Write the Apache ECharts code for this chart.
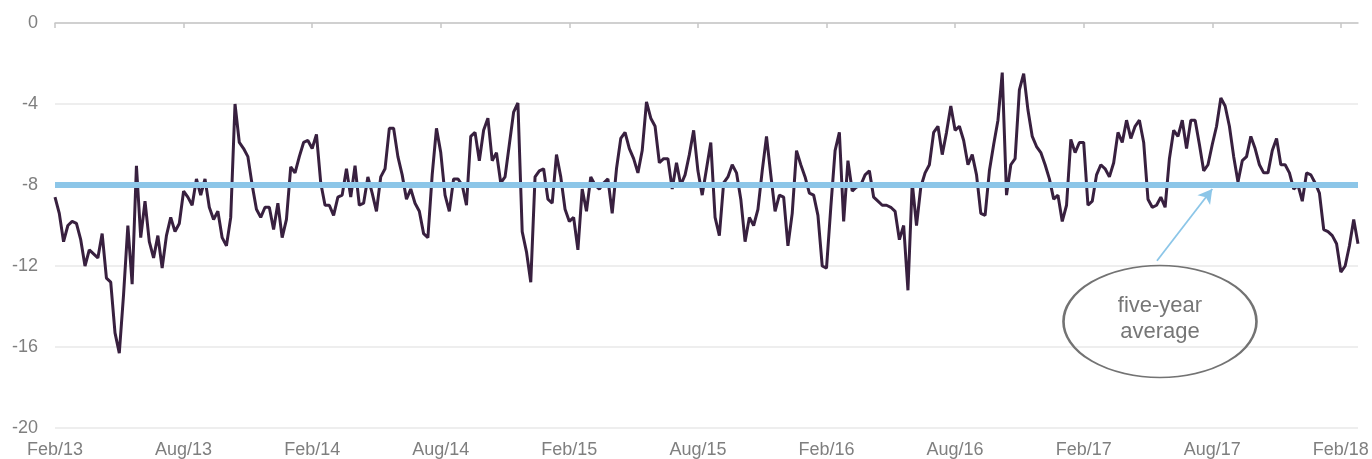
<!DOCTYPE html>
<html>
<head>
<meta charset="utf-8">
<title>Spread and five-year average</title>
<script src="https://cdn.jsdelivr.net/npm/echarts@6/dist/echarts.min.js"></script>
<style>
  html, body { margin: 0; padding: 0; background: #fff; }
  #chart { width: 1372px; height: 459px; }
</style>
</head>
<body>
<div id="chart"></div>
<script>
// x is counted in months from Feb 2013, one reading every 0.2 month
const STEP = 0.2

const tickMonths = [0, 6, 12, 18, 24, 30, 36, 42, 48, 54, 60]
const tickLabels = ['Feb/13', 'Aug/13', 'Feb/14', 'Aug/14', 'Feb/15', 'Aug/15',
  'Feb/16', 'Aug/16', 'Feb/17', 'Aug/17', 'Feb/18']

const spread = [
  -8.6, -9.4, -10.8, -10.0, -9.8, -9.9, -10.7, -12.0, -11.2, -11.4,
  -11.6, -10.4, -12.6, -12.8, -15.3, -16.3, -13.4, -10.0, -12.9, -7.05,
  -10.6, -8.8, -10.8, -11.6, -10.5, -12.1, -10.5, -9.6, -10.3, -9.9,
  -8.3, -8.6, -9.0, -7.7, -8.5, -7.7, -9.1, -9.7, -9.3, -10.6,
  -11.0, -9.6, -4.0, -5.9, -6.2, -6.6, -8.0, -9.2, -9.6, -9.1,
  -9.1, -10.2, -8.9, -10.6, -9.7, -7.1, -7.4, -6.6, -5.9, -5.8,
  -6.2, -5.5, -7.9, -9.0, -9.0, -9.5, -8.6, -8.5, -7.2, -8.6,
  -7.05, -9.0, -8.9, -7.6, -8.4, -9.3, -7.6, -7.2, -5.2, -5.2,
  -6.6, -7.5, -8.7, -8.2, -8.9, -9.3, -10.4, -10.6, -7.5, -5.2,
  -6.4, -8.5, -9.3, -7.7, -7.7, -8.0, -9.0, -5.6, -5.4, -6.8,
  -5.3, -4.7, -6.8, -6.4, -7.9, -7.6, -6.0, -4.4, -3.95, -10.3,
  -11.3, -12.8, -7.6, -7.3, -7.2, -8.7, -8.9, -6.5, -7.6, -9.2,
  -9.8, -9.6, -11.2, -8.2, -9.3, -7.6, -8.0, -8.2, -7.9, -7.7,
  -9.4, -7.2, -5.7, -5.4, -6.2, -6.7, -7.4, -6.3, -3.9, -4.7,
  -5.1, -6.9, -6.7, -6.7, -8.2, -6.9, -8.0, -7.5, -6.5, -5.3,
  -7.3, -8.5, -7.2, -5.9, -9.6, -10.5, -7.9, -7.6, -7.0, -7.4,
  -8.7, -10.8, -9.6, -10.0, -9.2, -7.3, -5.6, -7.5, -9.3, -8.5,
  -8.6, -11.0, -9.4, -6.3, -7.0, -7.6, -8.4, -8.5, -9.5, -12.0,
  -12.1, -9.1, -6.3, -5.4, -9.8, -6.8, -8.3, -8.1, -8.0, -7.5,
  -7.3, -8.6, -8.8, -9.0, -9.0, -9.1, -9.3, -10.7, -10.0, -13.2,
  -7.9, -10.0, -8.1, -7.4, -7.0, -5.4, -5.1, -6.5, -5.4, -4.1,
  -5.3, -5.1, -5.8, -7.0, -6.5, -7.5, -9.4, -9.5, -7.3, -6.0,
  -4.8, -2.45, -8.5, -7.0, -6.7, -3.3, -2.5, -4.3, -5.6, -6.1,
  -6.4, -7.0, -7.7, -8.7, -8.5, -9.8, -9.0, -5.75, -6.4, -5.9,
  -5.9, -9.0, -8.8, -7.5, -7.0, -7.2, -7.6, -6.9, -5.4, -5.9,
  -4.8, -5.7, -5.1, -4.8, -5.9, -8.7, -9.1, -9.0, -8.6, -9.1,
  -6.7, -5.3, -5.6, -4.8, -6.2, -4.8, -4.8, -6.0, -7.3, -7.0,
  -6.0, -5.1, -3.7, -4.1, -5.1, -6.6, -7.85, -6.8, -6.6, -5.6,
  -6.2, -7.0, -7.4, -7.4, -6.3, -5.7, -7.0, -7.0, -7.4, -8.2,
  -8.0, -8.8, -7.4, -7.5, -7.9, -8.4, -10.2, -10.3, -10.5, -10.9,
  -12.3, -12.0, -11.0, -9.7, -10.9
]

const fiveYearAverage = -8

// callout: ellipse centre and arrow, in chart units (months, value)
const calloutText = 'five-year\naverage'
const calloutCentre = [51.56, -14.74]
const arrowFrom = [51.42, -11.74]
const arrowTo = [54.0, -8.2]

const chart = echarts.init(document.getElementById('chart'))

const lastMonth = +((spread.length - 1) * STEP).toFixed(2)
const lineData = spread.map((v, i) => [+(i * STEP).toFixed(2), v])

const labelFont = {
  color: '#7f7f7f',
  fontSize: 18,
  fontFamily: 'Liberation Sans, Arial, sans-serif'
}

const option = {
  animation: false,
  grid: { left: 55, right: 14, top: 23, bottom: 30 },
  xAxis: [
    {
      // axis line at zero, ticks pointing down
      type: 'value',
      position: 'top',
      min: 0,
      max: lastMonth,
      axisLine: { show: true, lineStyle: { color: '#c6c6c6', width: 1.5 } },
      axisTick: {
        show: true,
        inside: true,
        length: 5,
        customValues: tickMonths,
        lineStyle: { color: '#c6c6c6', width: 1.5 }
      },
      axisLabel: { show: false },
      splitLine: { show: false }
    },
    {
      type: 'value',
      position: 'bottom',
      min: 0,
      max: lastMonth,
      axisLine: { show: false },
      axisTick: { show: false },
      axisLabel: {
        ...labelFont,
        margin: 13,
        customValues: tickMonths,
        formatter: (v) => tickLabels[tickMonths.indexOf(Math.round(v))] || ''
      },
      splitLine: { show: false }
    }
  ],
  yAxis: {
    type: 'value',
    min: -20,
    max: 0,
    interval: 4,
    axisLine: { show: false },
    axisTick: { show: false },
    axisLabel: { ...labelFont, margin: 17 },
    splitLine: { lineStyle: { color: '#e8e8e8', width: 1.5 } }
  },
  series: [
    {
      name: 'spread',
      type: 'line',
      xAxisIndex: 0,
      data: lineData,
      showSymbol: false,
      lineStyle: { color: '#38203f', width: 3 },
      z: 2
    },
    {
      name: 'five-year average',
      type: 'line',
      xAxisIndex: 0,
      data: [],
      z: 3,
      markLine: {
        silent: true,
        symbol: 'none',
        label: { show: false },
        lineStyle: { color: '#8cc6e8', width: 6, type: 'solid', opacity: 1 },
        data: [{ yAxis: fiveYearAverage }]
      }
    },
    {
      name: 'arrow',
      type: 'line',
      xAxisIndex: 0,
      data: [],
      z: 4,
      markLine: {
        silent: true,
        symbol: ['none', 'arrow'],
        symbolSize: [12, 14],
        label: { show: false },
        lineStyle: { color: '#8cc6e8', width: 1.8, type: 'solid', opacity: 1 },
        data: [[{ coord: arrowFrom }, { coord: arrowTo }]]
      }
    },
    {
      name: 'callout',
      type: 'scatter',
      xAxisIndex: 0,
      data: [calloutCentre],
      symbol: 'circle',
      symbolSize: [193, 112],
      silent: true,
      z: 5,
      itemStyle: {
        color: 'rgba(255,255,255,0)',
        borderColor: '#737373',
        borderWidth: 2,
        opacity: 1
      },
      label: {
        show: true,
        position: 'inside',
        formatter: calloutText,
        color: '#767676',
        fontSize: 22,
        lineHeight: 26,
        fontFamily: 'Liberation Sans, Arial, sans-serif',
        offset: [0, -3]
      },
      emphasis: { disabled: true }
    }
  ]
}

chart.setOption(option)
</script>
</body>
</html>
